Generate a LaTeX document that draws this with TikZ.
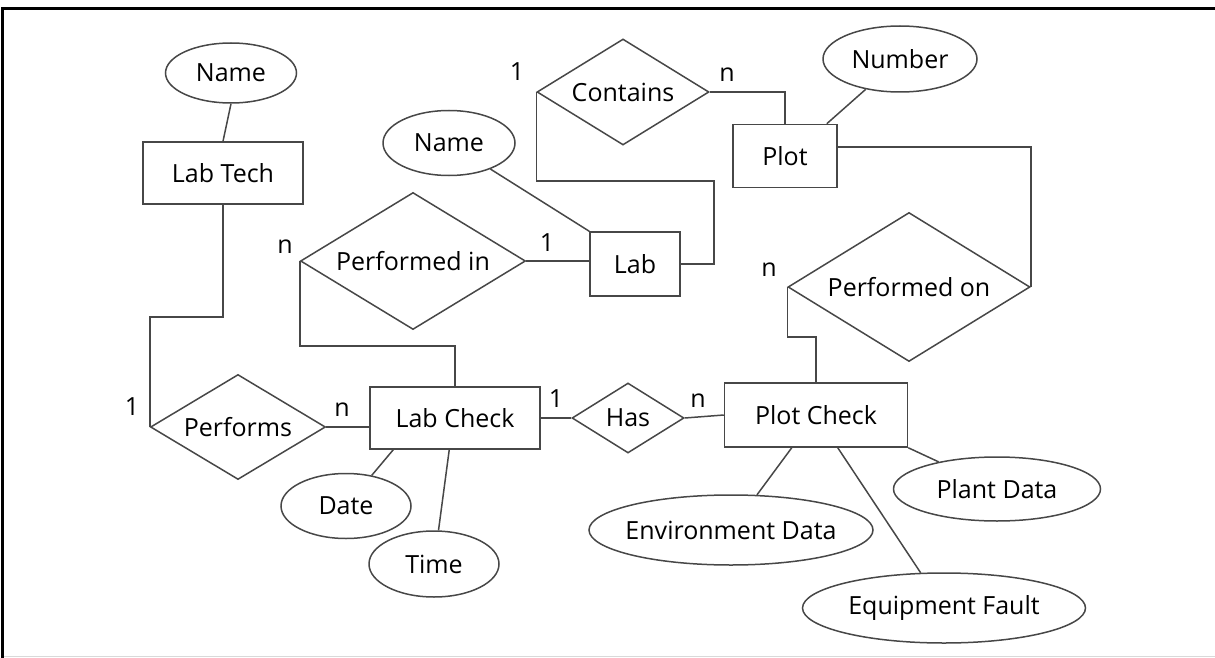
\documentclass[tikz,border=0pt]{standalone}
\usepackage{fontspec}
\setmainfont{Open Sans}
\usetikzlibrary{shapes.geometric}
\begin{document}
\begin{tikzpicture}[x=1pt,y=-1pt,
  every node/.style={font=\fontsize{25}{28}\selectfont, text=black},
  conn/.style={draw=black!72, line width=1.5pt},
  entity/.style={draw=black!72, line width=1.5pt, rectangle, inner sep=0pt},
  attr/.style={draw=black!72, line width=1.5pt, ellipse, inner xsep=-8pt, inner ysep=0pt},
  rel/.style={draw=black!72, line width=1.5pt, diamond, inner sep=0pt},
  card/.style={inner sep=0pt}
]
\useasboundingbox (0,0) rectangle (1215,658);
% frame
\draw[black, line width=3pt] (2.5,658) -- (2.5,8.5) -- (1215,8.5);
\draw[black!15, line width=1.5pt] (4,656.5) -- (1215,656.5);

% entities
\node[entity, minimum width=160pt, minimum height=62pt] (labtech) at (223,173) {Lab Tech};
\node[entity, minimum width=170pt, minimum height=62pt] (labcheck) at (455,418) {Lab Check};
\node[entity, minimum width=183pt, minimum height=64pt] (plotcheck) at (816,415) {Plot Check};
\node[entity, minimum width=90pt, minimum height=64pt] (lab) at (635,264) {Lab};
\node[entity, minimum width=104pt, minimum height=63pt] (plot) at (785,156) {Plot};

% attributes
\node[attr, minimum width=131pt, minimum height=60pt] (name1) at (231,73) {Name};
\node[attr, minimum width=132pt, minimum height=65pt] (name2) at (449,143) {Name};
\node[attr, minimum width=154pt, minimum height=66pt] (number) at (900,59) {Number};
\node[attr, minimum width=130pt, minimum height=65pt] (date) at (346,506) {Date};
\node[attr, minimum width=130pt, minimum height=66pt] (time) at (434,564) {Time};
\node[attr, minimum width=207pt, minimum height=64pt] (plantdata) at (997,489) {Plant Data};
\node[attr, minimum width=284pt, minimum height=70pt] (envdata) at (731,530) {Environment Data};
\node[attr, minimum width=283pt, minimum height=70pt] (equip) at (944,608) {Equipment Fault};

% relationships
\node[rel, aspect=1.67, minimum width=175pt, minimum height=105pt] (performs) at (238,427) {Performs};
\node[rel, aspect=1.6, minimum width=112pt, minimum height=70pt] (has) at (628,418) {Has};
\node[rel, aspect=1.64, minimum width=225pt, minimum height=137pt] (performedin) at (413,261) {Performed in};
\node[rel, aspect=1.62, minimum width=172pt, minimum height=106pt] (contains) at (623,92) {Contains};
\node[rel, aspect=1.62, minimum width=242pt, minimum height=149pt] (performedon) at (909,287) {Performed on};

% cardinalities
\node[card] (c1) at (132,407) {1};
\node[card] (c2) at (342,410) {n};
\node[card] (c3) at (556,399) {1};
\node[card] (c4) at (698,401) {n};
\node[card] (c5) at (285,247) {n};
\node[card] (c6) at (547,243) {1};
\node[card] (c7) at (517,72) {1};
\node[card] (c8) at (727,75) {n};
\node[card] (c9) at (769,270) {n};

% connectors
\draw[conn] (name1.south) -- (labtech.north);
\draw[conn] (labtech.south) -- (labtech.south |- 0,317) -- (performs.west |- 0,317) -- (performs.west);
\draw[conn] (performs.east) -- (performs.east -| labcheck.west);
\draw[conn] (labcheck.north) -- (labcheck.north |- 0,346) -| (performedin.west);
\draw[conn] (performedin.east) -- (performedin.east -| lab.west);
\draw[conn] (name2) -- (lab.north west);
\draw[conn] (contains.west) |- (714,181) |- (lab.east);
\draw[conn] (contains.east) -| (plot.north);
\draw[conn] (number) -- ([xshift=-11pt]plot.north east);
\draw[conn] ([yshift=9pt]plot.east) -| (performedon.east);
\draw[conn] (performedon.west) -- (performedon.west |- 0,337) -| (plotcheck.north);
\draw[conn] (labcheck.east) -- (has.west);
\draw[conn] (has.east) -- (plotcheck.west);
\draw[conn] (date) -- ([xshift=24pt]labcheck.south west);
\draw[conn] (time) -- ([xshift=80pt]labcheck.south west);
\draw[conn] (envdata) -- ([xshift=68pt]plotcheck.south west);
\draw[conn] (equip) -- ([xshift=114pt]plotcheck.south west);
\draw[conn] (plantdata) -- (plotcheck.south east);
\end{tikzpicture}
\end{document}
